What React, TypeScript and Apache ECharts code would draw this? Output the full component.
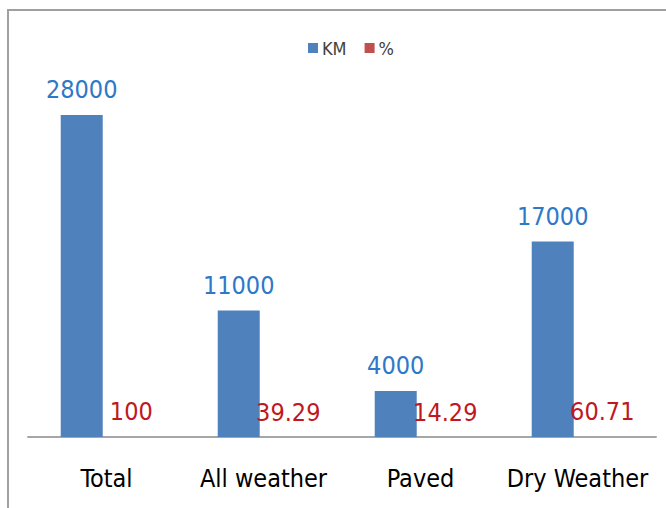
import React, { useEffect, useRef } from "react";
import * as echarts from "echarts";

const categories = ["Total", "All weather", "Paved", "Dry Weather"];
const kmValues = [28000, 11000, 4000, 17000];
const pctValues = [100, 39.29, 14.29, 60.71];
const seriesNames = ["KM", "%"];

const FONT = "'DejaVu Sans Condensed', Roboto, sans-serif";

export default function App() {
  const ref = useRef<HTMLDivElement>(null);
  useEffect(() => {
    if (!ref.current) return;
    const chart = echarts.init(ref.current, null, { renderer: "svg" });
    chart.setOption({
      animation: false,
      backgroundColor: "#ffffff",
      graphic: [
        {
          type: "rect",
          shape: { x: 8, y: 10, width: 700, height: 600 },
          style: { fill: "none", stroke: "#a0a0a0", lineWidth: 2 },
          silent: true,
        },
      ],
      legend: {
        data: [
          { name: seriesNames[0], itemStyle: { color: "#4f81bd" } },
          { name: seriesNames[1], itemStyle: { color: "#c0504d" } },
        ],
        top: 34,
        left: 303,
        itemWidth: 10,
        itemHeight: 10,
        itemGap: 18,
        icon: "rect",
        textStyle: { fontFamily: FONT, fontSize: 18, color: "#404040", padding: [0, 0, 0, -1] },
      },
      grid: { left: 28, right: 10, top: 92, bottom: 71 },
      xAxis: {
        type: "category",
        data: categories,
        axisLine: { lineStyle: { color: "#a6a6a6", width: 2 } },
        axisTick: { show: false },
        axisLabel: {
          color: "#000000",
          fontFamily: FONT,
          fontSize: 25,
          margin: 29,
          interval: 0,
        },
      },
      yAxis: {
        type: "value",
        min: 0,
        max: 30000,
        show: false,
        splitLine: { show: false },
      },
      series: [
        {
          name: seriesNames[0],
          type: "bar",
          data: kmValues,
          barWidth: 42,
          barGap: "18%",
          itemStyle: { color: "#4f81bd" },
          label: {
            show: true,
            position: "top",
            distance: 13,
            color: "#2e78c8",
            fontFamily: FONT,
            fontSize: 25,
          },
        },
        {
          name: seriesNames[1],
          type: "bar",
          data: pctValues,
          barWidth: 42,
          itemStyle: { color: "rgba(192,80,77,0)" },
          label: {
            show: true,
            position: "top",
            distance: 12,
            color: "#c0181e",
            fontFamily: FONT,
            fontSize: 25,
          },
        },
      ],
    });
    return () => chart.dispose();
  }, []);
  return <div ref={ref} style={{ width: 666, height: 508, position: "absolute", left: 0, top: 0 }} />;
}
